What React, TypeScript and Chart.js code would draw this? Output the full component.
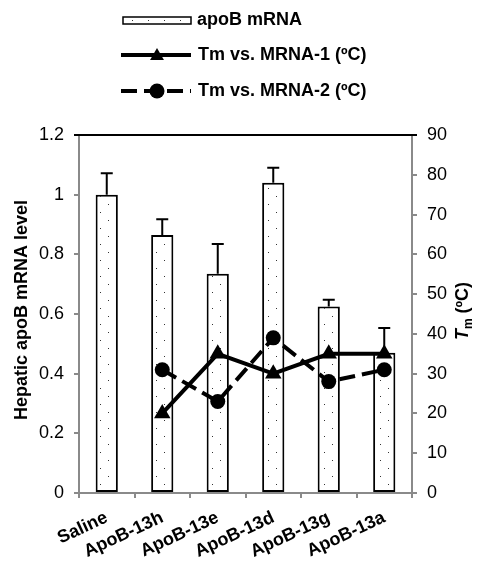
import React, { useEffect, useRef } from 'react';
import { Chart, registerables } from 'chart.js';

Chart.register(...registerables);

const categories = ['Saline', 'ApoB-13h', 'ApoB-13e', 'ApoB-13d', 'ApoB-13g', 'ApoB-13a'];
const mrnaLevel = [1.0, 0.865, 0.735, 1.04, 0.625, 0.47];
const mrnaErrUp = [0.072, 0.053, 0.1, 0.05, 0.023, 0.083];
const tm1 = [null, 20, 35, 30, 35, 35];
const tm2 = [null, 31, 23, 39, 28, 31];
const legendLabels = ['apoB mRNA', 'Tm vs. MRNA-1 (ºC)', 'Tm vs. MRNA-2 (ºC)'];
const leftTitle = 'Hepatic apoB mRNA level';

const FONT = '"Liberation Sans", Arial, sans-serif';
const AXIS_GRAY = '#8a8a8a';

function makePattern(): CanvasPattern | string {
  const c = document.createElement('canvas');
  c.width = 16;
  c.height = 16;
  const g = c.getContext('2d');
  if (!g) return '#fff';
  g.fillStyle = '#ffffff';
  g.fillRect(0, 0, 16, 16);
  g.fillStyle = '#333333';
  g.fillRect(4, 4, 1, 1);
  g.fillRect(12, 12, 1, 1);
  const p = g.createPattern(c, 'repeat');
  return p || '#fff';
}

function drawTriangle(ctx: CanvasRenderingContext2D, x: number, y: number, r: number) {
  ctx.beginPath();
  ctx.moveTo(x, y - r);
  ctx.lineTo(x + r * 0.866, y + r / 2);
  ctx.lineTo(x - r * 0.866, y + r / 2);
  ctx.closePath();
  ctx.fill();
}

export default function App() {
  const ref = useRef<HTMLCanvasElement | null>(null);

  useEffect(() => {
    if (!ref.current) return;
    const pattern = makePattern();

    const extras = {
      id: 'extras',
      afterDatasetDraw(chart: any, args: any) {
        if (args.index !== 0) return;
        const ctx = chart.ctx;
        const y = chart.scales.y;
        const meta = chart.getDatasetMeta(0);
        ctx.save();
        ctx.strokeStyle = '#000';
        ctx.lineWidth = 2;
        meta.data.forEach((el: any, i: number) => {
          const yb = y.getPixelForValue(mrnaLevel[i]);
          const yt = y.getPixelForValue(mrnaLevel[i] + mrnaErrUp[i]);
          ctx.beginPath();
          ctx.moveTo(el.x, yb);
          ctx.lineTo(el.x, yt);
          ctx.moveTo(el.x - 6, yt);
          ctx.lineTo(el.x + 6, yt);
          ctx.stroke();
        });
        ctx.restore();
      },
      afterDraw(chart: any) {
        const ctx = chart.ctx as CanvasRenderingContext2D;
        const ca = chart.chartArea;
        ctx.save();
        // top border
        ctx.strokeStyle = '#000';
        ctx.lineWidth = 2;
        ctx.beginPath();
        ctx.moveTo(ca.left - 5, ca.top);
        ctx.lineTo(ca.right + 5, ca.top);
        ctx.stroke();

        // legend
        const lx0 = 121;
        const lx1 = 191;
        const tx = 197;
        ctx.font = `bold 18px ${FONT}`;
        ctx.fillStyle = '#000';
        ctx.textBaseline = 'middle';
        ctx.textAlign = 'left';
        // item 1
        ctx.fillStyle = pattern as any;
        ctx.fillRect(lx0 + 2, 17, lx1 - lx0 - 2, 7);
        ctx.strokeStyle = '#000';
        ctx.lineWidth = 1.5;
        ctx.strokeRect(lx0 + 2, 17, lx1 - lx0 - 2, 7);
        ctx.fillStyle = '#000';
        ctx.fillText(legendLabels[0], tx, 20);
        // item 2
        ctx.lineWidth = 4;
        ctx.beginPath();
        ctx.moveTo(lx0, 55);
        ctx.lineTo(lx1, 55);
        ctx.stroke();
        drawTriangle(ctx, 157, 56, 8);
        ctx.fillText(legendLabels[1], tx + 1, 55);
        // item 3
        ctx.setLineDash([16, 7]);
        ctx.beginPath();
        ctx.moveTo(lx0, 91);
        ctx.lineTo(lx1, 91);
        ctx.stroke();
        ctx.setLineDash([]);
        ctx.beginPath();
        ctx.arc(157, 91, 7.5, 0, Math.PI * 2);
        ctx.fill();
        ctx.fillText(legendLabels[2], tx + 1, 91);

        // left title
        ctx.save();
        ctx.translate(22, 310);
        ctx.rotate(-Math.PI / 2);
        ctx.textAlign = 'center';
        ctx.textBaseline = 'middle';
        ctx.font = `bold 18px ${FONT}`;
        ctx.fillText(leftTitle, 0, 0);
        ctx.restore();

        // right title: T_m (ºC)
        ctx.save();
        ctx.translate(463, 311);
        ctx.rotate(-Math.PI / 2);
        ctx.textAlign = 'left';
        ctx.textBaseline = 'middle';
        const f1 = `italic bold 18px ${FONT}`;
        const f2 = `bold 12px ${FONT}`;
        const f3 = `bold 18px ${FONT}`;
        ctx.font = f1;
        const wT = ctx.measureText('T').width;
        ctx.font = f2;
        const wM = ctx.measureText('m').width;
        ctx.font = f3;
        const wR = ctx.measureText(' (ºC)').width;
        let x = -(wT + wM + wR) / 2;
        ctx.font = f1;
        ctx.fillText('T', x, 0);
        x += wT;
        ctx.font = f2;
        ctx.fillText('m', x, 6);
        x += wM;
        ctx.font = f3;
        ctx.fillText(' (ºC)', x, 0);
        ctx.restore();

        ctx.restore();
      },
    };

    const chart = new Chart(ref.current, {
      type: 'bar',
      data: {
        labels: categories,
        datasets: [
          {
            type: 'bar',
            label: legendLabels[0],
            data: mrnaLevel,
            backgroundColor: pattern as any,
            borderColor: '#000',
            borderWidth: 2,
            borderSkipped: false,
            barPercentage: 0.4,
            categoryPercentage: 1,
            yAxisID: 'y',
            order: 3,
          },
          {
            type: 'line',
            label: legendLabels[1],
            data: tm1 as any,
            borderColor: '#000',
            backgroundColor: '#000',
            borderWidth: 4,
            pointStyle: 'triangle',
            pointRadius: 9.5,
            pointBackgroundColor: '#000',
            pointBorderColor: '#000',
            pointBorderWidth: 0,
            yAxisID: 'y1',
            order: 2,
          },
          {
            type: 'line',
            label: legendLabels[2],
            data: tm2 as any,
            borderColor: '#000',
            backgroundColor: '#000',
            borderWidth: 4,
            borderDash: [16, 7],
            pointStyle: 'circle',
            pointRadius: 7.5,
            pointBackgroundColor: '#000',
            pointBorderColor: '#000',
            pointBorderWidth: 0,
            yAxisID: 'y1',
            order: 1,
          },
        ],
      },
      options: {
        animation: false,
        responsive: true,
        maintainAspectRatio: false,
        layout: { padding: { top: 135, left: 0, right: 0, bottom: 0 } },
        plugins: {
          legend: { display: false },
          tooltip: { enabled: false },
        },
        scales: {
          x: {
            offset: true,
            grid: {
              offset: true,
              drawOnChartArea: false,
              drawTicks: true,
              tickLength: 5,
              color: AXIS_GRAY,
              lineWidth: 2,
            },
            border: { display: true, color: AXIS_GRAY, width: 2 },
            ticks: {
              color: '#000',
              font: { family: FONT, size: 18, weight: 'bold' },
              minRotation: 25,
              maxRotation: 25,
              padding: 9,
              autoSkip: false,
            },
            afterFit: (s: any) => {
              s.height = 69;
            },
          },
          y: {
            position: 'left',
            min: 0,
            max: 1.2,
            grid: {
              drawOnChartArea: false,
              drawTicks: true,
              tickLength: 5,
              color: AXIS_GRAY,
              lineWidth: 2,
            },
            border: { display: true, color: AXIS_GRAY, width: 2 },
            ticks: {
              stepSize: 0.2,
              color: '#000',
              font: { family: FONT, size: 18 },
              padding: 10,
              callback: (v: any) => String(+Number(v).toFixed(1)),
            },
            afterFit: (s: any) => {
              s.width = 79;
            },
          },
          y1: {
            position: 'right',
            min: 0,
            max: 90,
            grid: {
              drawOnChartArea: false,
              drawTicks: true,
              tickLength: 5,
              color: AXIS_GRAY,
              lineWidth: 2,
            },
            border: { display: true, color: AXIS_GRAY, width: 2 },
            ticks: {
              stepSize: 10,
              color: '#000',
              font: { family: FONT, size: 18 },
              padding: 10,
            },
            afterFit: (s: any) => {
              s.width = 68;
            },
          },
        },
      },
      plugins: [extras],
    });

    return () => chart.destroy();
  }, []);

  return (
    <div style={{ position: 'absolute', left: 0, top: 0, width: 480, height: 562 }}>
      <canvas ref={ref} />
    </div>
  );
}
